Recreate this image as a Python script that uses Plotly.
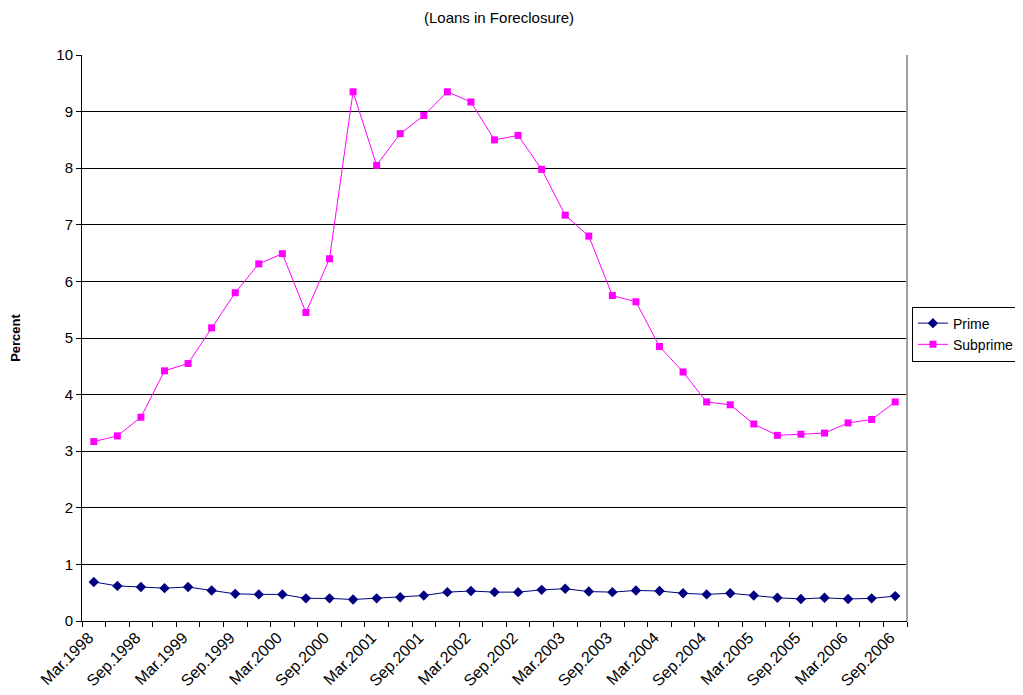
import plotly.graph_objects as go

quarters = []
for yr in range(1998, 2007):
    for m in ["Mar", "Jun", "Sep", "Dec"]:
        quarters.append(f"{m}.{yr}")
quarters = quarters[:35]  # Mar.1998 .. Sep.2006

prime = [0.69, 0.62, 0.60, 0.58, 0.60, 0.54, 0.48, 0.47, 0.47, 0.40, 0.40, 0.38,
         0.40, 0.42, 0.45, 0.51, 0.53, 0.51, 0.51, 0.55, 0.57, 0.52, 0.51, 0.54,
         0.53, 0.49, 0.47, 0.49, 0.45, 0.41, 0.39, 0.41, 0.39, 0.40, 0.44]
subprime = [3.17, 3.27, 3.60, 4.42, 4.55, 5.18, 5.80, 6.31, 6.49, 5.45, 6.40, 9.35,
            8.05, 8.61, 8.93, 9.35, 9.17, 8.50, 8.58, 7.98, 7.17, 6.80, 5.75, 5.64,
            4.85, 4.40, 3.87, 3.82, 3.48, 3.28, 3.30, 3.32, 3.50, 3.56, 3.87]

x = list(range(len(quarters)))
tick_idx = x[::2]
tick_txt = [quarters[i] for i in tick_idx]

fig = go.Figure()
fig.add_trace(go.Scatter(x=x, y=prime, name="Prime", mode="lines+markers",
                         line=dict(color="#000080", width=1),
                         marker=dict(symbol="diamond", size=8, color="#000080")))
fig.add_trace(go.Scatter(x=x, y=subprime, name="Subprime", mode="lines+markers",
                         line=dict(color="#FF00FF", width=1),
                         marker=dict(symbol="square", size=7, color="#FF00FF")))

fig.update_layout(
    width=1023, height=695,
    margin=dict(l=74, r=124, t=47, b=82, autoexpand=False),
    paper_bgcolor="white", plot_bgcolor="white",
    font=dict(family="Liberation Sans, Arial", size=14, color="black"),
    title=dict(text="(Loans in Foreclosure)", x=0.48, xanchor="center", y=0.986, yanchor="middle",
               font=dict(size=15)),
    showlegend=True,
    legend=dict(x=1.006, xanchor="left", y=0.507, yanchor="middle",
                bordercolor="black", borderwidth=1, bgcolor="white",
                font=dict(size=14), tracegroupgap=0, itemwidth=30),
    xaxis=dict(range=[-0.5, 34.5], tickmode="array", tickvals=tick_idx, ticktext=tick_txt,
               tickangle=-45, ticks="", showgrid=False, zeroline=False, automargin=False,
               showline=True, linecolor="black", linewidth=1,
               tickfont=dict(size=16), ticklabelshift=-5,
               minor=dict(tick0=-0.5, dtick=1, ticks="outside", ticklen=5,
                          tickcolor="black", showgrid=False)),
    yaxis=dict(range=[0, 10], dtick=1, ticks="outside", ticklen=5, tickcolor="black",
               showgrid=True, gridcolor="black", gridwidth=1, zeroline=False, automargin=False,
               showline=True, linecolor="black", linewidth=1,
               title=dict(text="<b>Percent</b>", font=dict(size=13), standoff=33),
               tickfont=dict(size=15)),
)
# right border of plot area
fig.add_shape(type="line", xref="paper", yref="paper", x0=1, x1=1, y0=0, y1=1,
              line=dict(color="#A0A0A0", width=2))

fig.write_html("out.html")
